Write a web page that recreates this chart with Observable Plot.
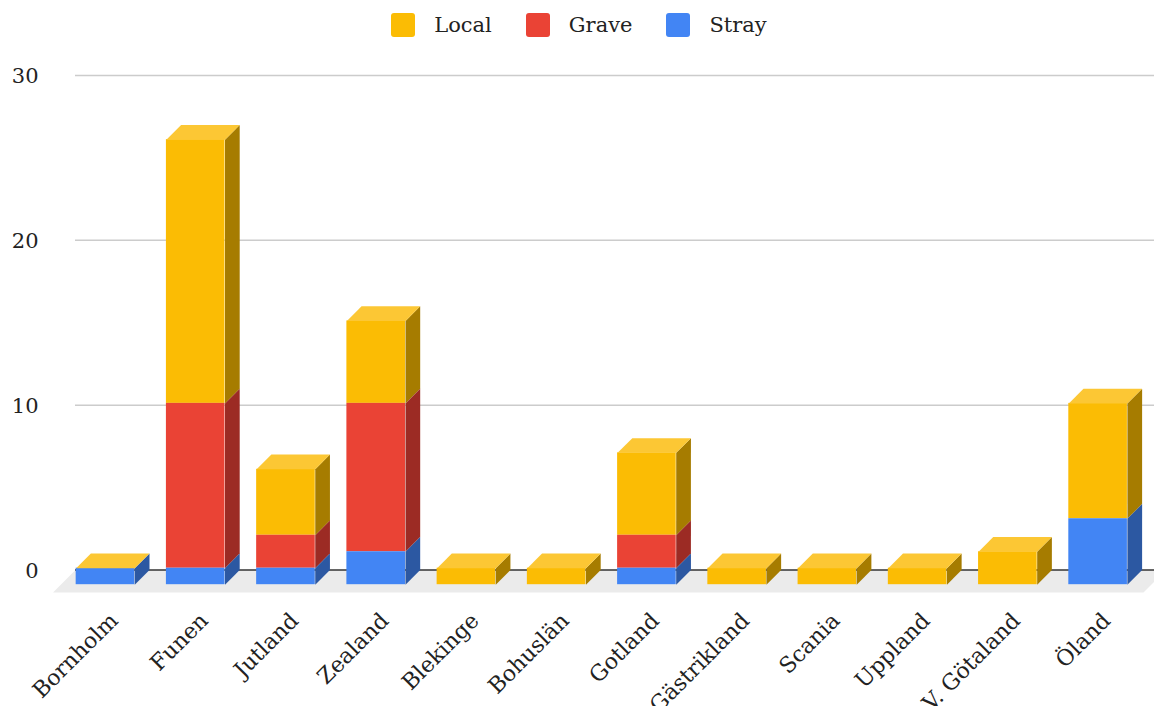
<!DOCTYPE html>
<html>
<head>
<meta charset="utf-8">
<script src="https://cdn.jsdelivr.net/npm/d3@7"></script>
<script src="https://cdn.jsdelivr.net/npm/@observablehq/plot@0.6"></script>
<style>
  html, body { margin: 0; padding: 0; background: #fff; }
  body { width: 1154px; height: 706px; overflow: hidden; font-family: "DejaVu Serif", serif; color: #222; }
  #legend { height: 50px; display: flex; justify-content: center; align-items: center; gap: 34px; font-size: 21px; padding-left: 4px; box-sizing: border-box; }
  #legend .item { display: flex; align-items: center; }
  #legend .sw { width: 24px; height: 24px; border-radius: 3px; margin-right: 19px; }
  svg { display: block; }
</style>
</head>
<body>
<div id="legend"></div>
<div id="chart"></div>
<script>
// ---- data ----
const categories = ["Bornholm", "Funen", "Jutland", "Zealand", "Blekinge", "Bohuslän", "Gotland", "Gästrikland", "Scania", "Uppland", "V. Götaland", "Öland"];
const seriesNames = ["Local", "Grave", "Stray"];
const local = [0, 16, 4, 5, 1, 1, 5, 1, 1, 1, 2, 7];
const grave = [0, 10, 2, 9, 0, 0, 2, 0, 0, 0, 0, 0];
const stray = [1, 1, 1, 2, 0, 0, 1, 0, 0, 0, 0, 4];
const yTicks = [0, 10, 20, 30];

// ---- styles ----
const frontColor = {Local: "#FBBC04", Grave: "#EA4335", Stray: "#4285F4"};
const sideColor = {Local: "#A67C00", Grave: "#9C2B24", Stray: "#2C58A2"};
const topColor = "#FCC734";

// ---- layout ----
const W = 1154, H = 656;
const mL = 75, mR = 0, mT = 25, mB = 136.5;
const xDomain = [-0.495, 11.462];
const yDomain = [0, 30];
const sx = (W - mL - mR) / (xDomain[1] - xDomain[0]);
const sy = (H - mT - mB) / (yDomain[1] - yDomain[0]);
const D = 14.7;           // 3D depth in px
const ddx = D / sx, ddy = D / sy;
const hw = 29.3 / sx;     // half bar width
const FD = 22.5;          // floor depth in px
const fdx = FD / sx, fdy = FD / sy;
const floorRight = xDomain[1] + 11.5 / sx;

// legend
const legend = document.getElementById("legend");
seriesNames.forEach(s => {
  const it = document.createElement("div");
  it.className = "item";
  const sw = document.createElement("div");
  sw.className = "sw";
  sw.style.background = frontColor[s];
  const t = document.createElement("span");
  t.textContent = s;
  it.appendChild(sw); it.appendChild(t);
  legend.appendChild(it);
});

// stacking (bottom to top: Stray, Grave, Local)
const stackOrder = [["Stray", stray], ["Grave", grave], ["Local", local]];
const segments = [];
const totals = [];
categories.forEach((c, i) => {
  let base = 0;
  stackOrder.forEach(([s, arr]) => {
    const v = arr[i];
    if (v > 0) {
      segments.push({i, s, y1: base, y2: base + v, id: c + "-" + s});
      base += v;
    }
  });
  totals.push({i, c, t: base});
});

// side face polygons
function sidePoly(seg) {
  const xr = seg.i + hw;
  return [
    {id: seg.id, x: xr, y: seg.y1},
    {id: seg.id, x: xr, y: seg.y2},
    {id: seg.id, x: xr - ddx, y: seg.y2 - ddy},
    {id: seg.id, x: xr - ddx, y: seg.y1 - ddy}
  ];
}
function topPoly(tt) {
  const id = "top-" + tt.i;
  return [
    {id, x: tt.i - hw, y: tt.t},
    {id, x: tt.i + hw, y: tt.t},
    {id, x: tt.i + hw - ddx, y: tt.t - ddy},
    {id, x: tt.i - hw - ddx, y: tt.t - ddy}
  ];
}
const floorPoly = [
  {id: "floor", x: xDomain[0], y: 0},
  {id: "floor", x: floorRight, y: 0},
  {id: "floor", x: floorRight - fdx, y: -fdy},
  {id: "floor", x: xDomain[0] - fdx, y: -fdy}
];

const marks = [
  Plot.line(floorPoly, {x: "x", y: "y", z: "id", fill: "#EBEBEB", stroke: "none"}),
  Plot.ruleY(yTicks.filter(d => d > 0), {stroke: "#CCCCCC", strokeWidth: 1.5}),
  Plot.ruleY([0], {stroke: "#333333", strokeWidth: 1.5}),
  Plot.axisY(yTicks, {tickSize: 0, tickPadding: 37, fontSize: 21, dy: 1, label: null})
];
seriesNames.forEach(s => {
  const segs = segments.filter(d => d.s === s);
  marks.push(Plot.rect(segs, {x1: d => d.i - hw, x2: d => d.i + hw, y1: "y1", y2: "y2", fill: frontColor[s], dx: -D, dy: D}));
  marks.push(Plot.line(segs.flatMap(sidePoly), {x: "x", y: "y", z: "id", fill: sideColor[s], stroke: "none"}));
});
marks.push(Plot.line(totals.flatMap(topPoly), {x: "x", y: "y", z: "id", fill: topColor, stroke: "none"}));
marks.push(Plot.text(totals, {x: "i", y: 0, text: "c", rotate: -45, textAnchor: "end", dx: -6, dy: 47, fontSize: 22, fill: "#222"}));

const chart = Plot.plot({
  width: W,
  height: H,
  marginLeft: mL,
  marginRight: mR,
  marginTop: mT,
  marginBottom: mB,
  x: {type: "linear", domain: xDomain, axis: null},
  y: {domain: yDomain, axis: null},
  style: {fontFamily: "'DejaVu Serif', serif", fontSize: "21px", color: "#222", background: "#fff", overflow: "visible"},
  marks
});
document.getElementById("chart").appendChild(chart);
</script>
</body>
</html>
